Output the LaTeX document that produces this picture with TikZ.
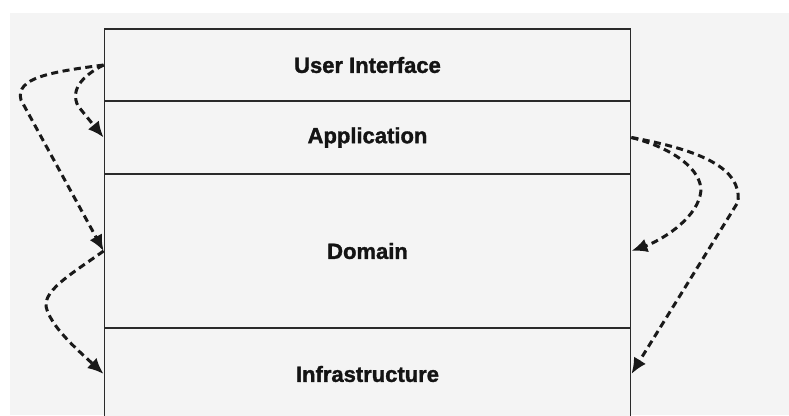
\documentclass[tikz,border=0pt]{standalone}
\usepackage{fontspec}
\setmainfont{Liberation Sans}
\newfontfamily\layerfont[FakeBold=1.5]{Liberation Sans Bold}
\usetikzlibrary{arrows.meta}
\definecolor{paper}{HTML}{F4F4F4}
\definecolor{edge}{HTML}{2A2A2A}
\begin{document}
\begin{tikzpicture}[x=1pt,y=-1pt,
  layer/.style={draw=edge, line width=1.8pt, fill=paper, minimum width=526pt,
    inner sep=0pt, font=\layerfont\fontsize{22}{26}\selectfont, text=black!92},
  dep/.style={line width=3pt, dash pattern=on 7pt off 4.5pt, draw=black!90,
    -{Latex[length=16pt,width=14pt]}}]
  \useasboundingbox (0,0) rectangle (789,415);
  \fill[white] (0,0) rectangle (789,415);
  \fill[paper] (10,13) rectangle (789,415);

  % the four stacked layers
  \node[layer, minimum height=72pt]  (ui)    at (367.5,65)    {User Interface};
  \node[layer, minimum height=73pt]  (app)   at (367.5,137.5) {Application};
  \node[layer, minimum height=154pt] (dom)   at (367.5,251)   {Domain};
  \node[layer, minimum height=92pt]  (infra) at (367.5,374)   {Infrastructure};

  % dependencies on the left
  \draw[dep] (ui.west) .. controls (50,72) and (15,78) .. (21,100) -- (dom.west);
  \draw[dep] (ui.west) .. controls (82,76) and (70,90) .. (78,106) -- (app.west);
  \draw[dep] (dom.west) .. controls (70,275) and (40,292) .. (47,310)
                        .. controls (54,330) and (80,352) .. (infra.west);

  % dependencies on the right
  \draw[dep] (app.east) .. controls (680,150) and (706,175) .. (700,196)
                        .. controls (694,220) and (662,240) .. (dom.east);
  \draw[dep] (app.east) .. controls (700,150) and (742,168) .. (738,202) -- (infra.east);
\end{tikzpicture}
\end{document}
